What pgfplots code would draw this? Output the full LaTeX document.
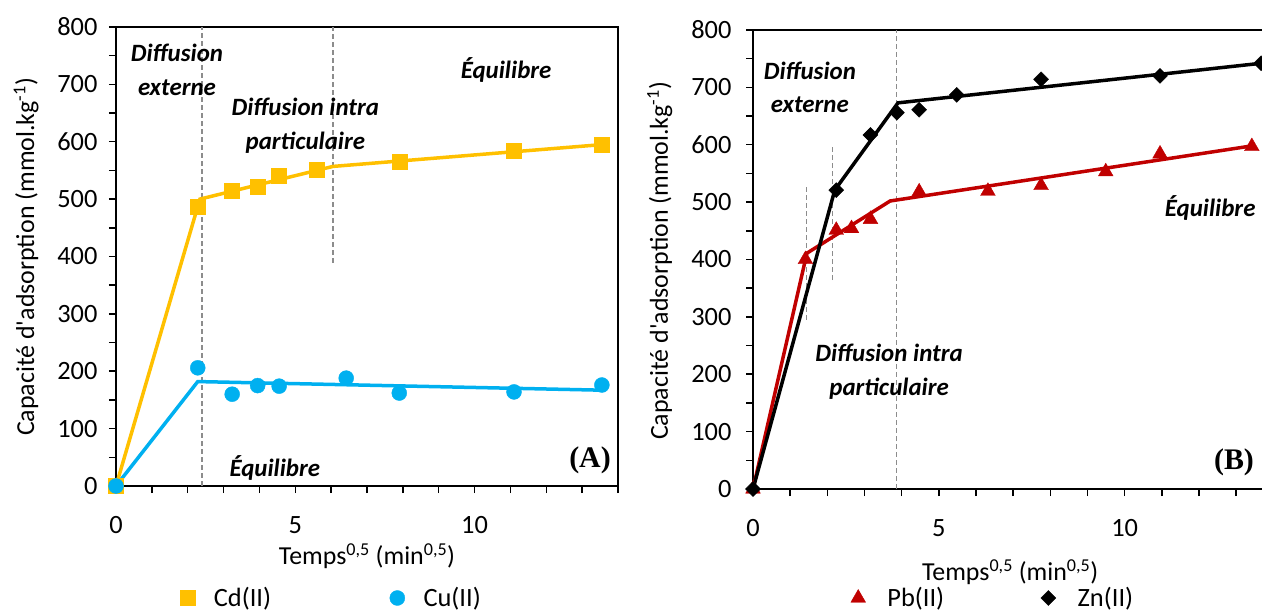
\documentclass[border=0pt]{standalone}
\usepackage{fontspec}
\setmainfont{Carlito}[Ligatures=TeXOff]
\newfontfamily\timesfont{Liberation Serif}
\usepackage{pgfplots}
\pgfplotsset{compat=1.18}
\definecolor{cdc}{HTML}{FFC000}
\definecolor{cuc}{HTML}{00B0F0}
\definecolor{pbc}{HTML}{C00000}
\definecolor{dashc}{HTML}{8C8C8C}
\tikzset{ann/.style={font=\bfseries\itshape\fontsize{25}{34}\selectfont, align=center}}
\pgfplotsset{
  common/.style={
    scale only axis, height=459bp,
    xmin=0, xmax=14, ymin=0, ymax=800,
    xtick={0,5,10}, minor xtick={1,2,3,4,6,7,8,9,11,12,13,14},
    ytick={0,100,...,800}, minor ytick={50,150,...,750},
    tick align=outside, tick pos=left,
    major tick length=7bp, minor tick length=7bp,
    every tick/.style={black, line width=1.5bp},
    axis line style={black, line width=2bp},
    ticklabel style={font=\fontsize{26.5}{30}\selectfont},
    xticklabel style={yshift=-20bp},
    yticklabel style={xshift=-8bp},
    /pgf/number format/assume math mode=true,
    ylabel={Capacité d'adsorption (mmol.kg\textsuperscript{-1})},
    xlabel={Temps\textsuperscript{0,5} (min\textsuperscript{0,5})},
    clip=false,
    legend image code/.code={\path (0bp,0bp) (20bp,0bp); \draw[##1] plot coordinates {(10bp,0bp)};},
  },
  fit/.style={no marks, line width=3.5bp, forget plot},
  dsh/.style={no marks, dashc, line width=1.2bp, dash pattern=on 5bp off 3bp, forget plot},
}
\begin{document}
\begin{tikzpicture}
\path[use as bounding box, clip] (0bp,0bp) rectangle (1262bp,611bp);
% ---------------- (A)
\begin{axis}[common, width=502bp, at={(116bp,125bp)}, anchor=south west,
  every axis y label/.style={at={(axis description cs:-0.179,0.499)}, rotate=90, anchor=center, font=\fontsize{26}{30}\selectfont},
  every axis x label/.style={at={(axis description cs:0.5,-0.152)}, anchor=center, font=\fontsize{26}{30}\selectfont},
  legend style={draw=none, fill=none, inner sep=0pt, outer sep=0pt, legend columns=2,
    at={(axis description cs:0.1225,-0.244)}, anchor=west, font=\fontsize{26.5}{30}\selectfont,
    /tikz/every odd column/.append style={column sep=14bp},
    /tikz/every even column/.append style={column sep=114bp}},
]
\addplot[dsh] coordinates {(2.40,0) (2.40,800)};
\addplot[dsh] coordinates {(6.05,389) (6.05,800)};
\addplot[fit, cdc] coordinates {(0,0) (2.34,500) (6.05,557) (13.55,595)};
\addplot[fit, cuc] coordinates {(0,0) (2.28,182) (13.55,167)};
\addplot[only marks, mark=square*, mark size=7.5bp, cdc, mark options={draw=cdc, fill=cdc}] coordinates {
 (0,0) (2.28,486) (3.22,514) (3.95,521) (4.55,540) (5.60,551) (7.90,566) (11.10,584) (13.55,595)};
\addlegendentry{Cd(II)}
\addplot[only marks, mark=*, mark size=7.5bp, cuc, mark options={draw=cuc, fill=cuc}] coordinates {
 (0,0) (2.28,206) (3.24,160) (3.95,175) (4.55,174) (6.42,188) (7.90,162) (11.10,164) (13.55,176)};
\addlegendentry{Cu(II)}
\node[ann] at (axis cs:1.70,726) {Diffusion\\externe};
\node[ann] at (axis cs:5.28,628) {Diffusion intra\\particulaire};
\node[ann] at (axis cs:10.88,725) {Équilibre};
\node[ann] at (axis cs:4.43,31) {Équilibre};
\node[font=\timesfont\bfseries\fontsize{30}{34}\selectfont] at (axis cs:13.22,45) {(A)};
\end{axis}
% ---------------- (B)
\begin{axis}[common, width=520.4bp, at={(753bp,122bp)}, anchor=south west,
  yticklabel style={xshift=-3bp},
  every axis y label/.style={at={(axis description cs:-0.179,0.497)}, rotate=90, anchor=center, font=\fontsize{26}{30}\selectfont},
  every axis x label/.style={at={(axis description cs:0.494,-0.181)}, anchor=center, font=\fontsize{26}{30}\selectfont},
  legend style={draw=none, fill=none, inner sep=0pt, outer sep=0pt, legend columns=2,
    at={(axis description cs:0.1826,-0.2375)}, anchor=west, font=\fontsize{26.5}{30}\selectfont,
    /tikz/every odd column/.append style={column sep=17bp},
    /tikz/every even column/.append style={column sep=92bp}},
]
\addplot[dsh] coordinates {(1.43,295) (1.43,530)};
\addplot[dsh] coordinates {(2.13,364) (2.13,596)};
\addplot[dsh] coordinates {(3.87,0) (3.87,800)};
\addplot[fit, pbc] coordinates {(0,0) (1.45,411) (3.69,502) (13.42,598)};
\addplot[fit, black] coordinates {(0,0) (2.20,521) (3.90,673) (13.67,742)};
\addplot[only marks, mark=triangle*, mark size=8.5bp, pbc, mark options={draw=pbc, fill=pbc}] coordinates {
 (0,0) (1.41,400) (2.24,451) (2.65,454) (3.16,470) (4.47,518) (6.32,519) (7.75,529) (9.49,553) (10.95,584) (13.42,597)};
\addlegendentry{Pb(II)}
\addplot[only marks, mark=square*, mark size=5.3bp, black, mark options={draw=black, fill=black, rotate=45}] coordinates {
 (0,0) (2.24,521) (3.16,617) (3.87,656) (4.47,661) (5.48,687) (7.75,714) (10.95,720) (13.67,742)};
\addlegendentry{Zn(II)}
\node[ann] at (axis cs:1.53,700) {Diffusion\\externe};
\node[ann] at (axis cs:3.66,205) {Diffusion intra\\particulaire};
\node[ann] at (axis cs:12.30,490) {Équilibre};
\node[font=\timesfont\bfseries\fontsize{30}{34}\selectfont] at (axis cs:12.94,47) {(B)};
\end{axis}
\end{tikzpicture}
\end{document}
